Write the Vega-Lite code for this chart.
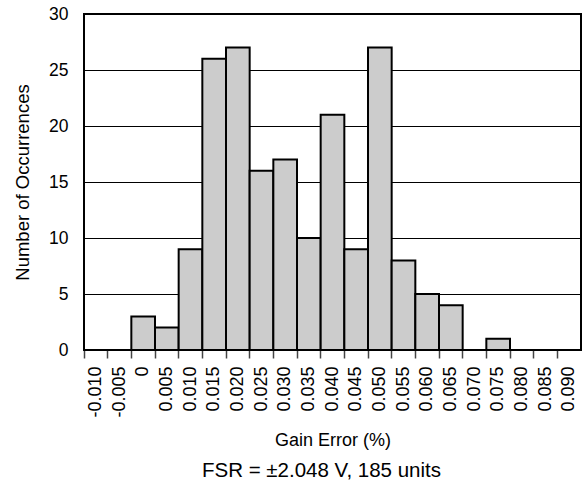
{
  "$schema": "https://vega.github.io/schema/vega-lite/v6.json",
  "autosize": {"type": "none"},
  "width": 497,
  "height": 336,
  "padding": {"left": 84, "top": 14, "right": 4, "bottom": 135},
  "background": "white",
  "config": {
    "font": "Liberation Sans",
    "view": {"stroke": "black", "strokeWidth": 2}
  },
  "title": {
    "text": "FSR = ±2.048 V, 185 units",
    "orient": "bottom",
    "fontSize": 20.5,
    "fontWeight": "normal",
    "font": "Liberation Sans",
    "color": "black",
    "offset": 12,
    "dx": -11
  },
  "data": {
    "values": [
      {"bin": "-0.010", "count": 0},
      {"bin": "-0.005", "count": 0},
      {"bin": "0", "count": 3},
      {"bin": "0.005", "count": 2},
      {"bin": "0.010", "count": 9},
      {"bin": "0.015", "count": 26},
      {"bin": "0.020", "count": 27},
      {"bin": "0.025", "count": 16},
      {"bin": "0.030", "count": 17},
      {"bin": "0.035", "count": 10},
      {"bin": "0.040", "count": 21},
      {"bin": "0.045", "count": 9},
      {"bin": "0.050", "count": 27},
      {"bin": "0.055", "count": 8},
      {"bin": "0.060", "count": 5},
      {"bin": "0.065", "count": 4},
      {"bin": "0.070", "count": 0},
      {"bin": "0.075", "count": 1},
      {"bin": "0.080", "count": 0},
      {"bin": "0.085", "count": 0},
      {"bin": "0.090", "count": 0}
    ]
  },
  "mark": {"type": "bar", "fill": "#cccccc", "stroke": "black", "strokeWidth": 2},
  "encoding": {
    "x": {
      "field": "bin",
      "type": "ordinal",
      "sort": null,
      "scale": {"paddingInner": 0, "paddingOuter": 0},
      "axis": {
        "title": "Gain Error (%)",
        "titleFontSize": 18,
        "titleFontWeight": "normal",
        "titleColor": "black",
        "titlePadding": 14,
        "labelAngle": -90,
        "labelFontSize": 18,
        "labelColor": "black",
        "labelPadding": 8,
        "bandPosition": 0,
        "tickSize": 8,
        "tickColor": "#444444",
        "tickWidth": 1.5,
        "domain": false,
        "grid": false
      }
    },
    "y": {
      "field": "count",
      "type": "quantitative",
      "scale": {"domain": [0, 30], "nice": false},
      "axis": {
        "title": "Number of Occurrences",
        "titleFontSize": 18.5,
        "titleFontWeight": "normal",
        "titleColor": "black",
        "titlePadding": 16,
        "values": [0, 5, 10, 15, 20, 25, 30],
        "labelFontSize": 17.5,
        "labelColor": "black",
        "labelPadding": 16,
        "ticks": false,
        "domain": false,
        "grid": true,
        "gridColor": "black",
        "gridWidth": 1,
        "gridOpacity": 1
      }
    }
  }
}
